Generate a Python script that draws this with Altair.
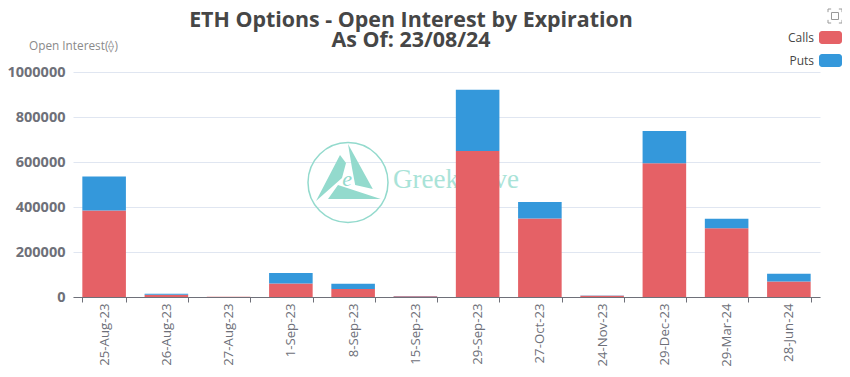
import altair as alt
import pandas as pd

expiries = ["25-Aug-23", "26-Aug-23", "27-Aug-23", "1-Sep-23", "8-Sep-23", "15-Sep-23",
            "29-Sep-23", "27-Oct-23", "24-Nov-23", "29-Dec-23", "29-Mar-24", "28-Jun-24"]
calls = [385000, 10000, 800, 60500, 35500, 3500, 649000, 349000, 6000, 595000, 306000, 69000]
puts = [151000, 4000, 700, 46500, 23500, 1000, 272000, 73000, 1000, 143000, 42000, 34500]
series = ["Calls", "Puts"]
colors = ["#E56166", "#3498DB"]
y_ticks = [0, 200000, 400000, 600000, 800000, 1000000]
title_lines = ["ETH Options - Open Interest by Expiration", "As Of: 23/08/24"]

FONT = "Open Sans"
TEAL = "#93DACD"
GREY = "#6E7079"

rows = []
for i, e in enumerate(expiries):
    rows.append({"expiry": e, "series": "Calls", "oi": calls[i], "order": 0})
    rows.append({"expiry": e, "series": "Puts", "oi": puts[i], "order": 1})
df = pd.DataFrame(rows)

one = alt.Data(values=[{"k": 1}])


def px(x):
    return alt.value(x - 73)


def py(y):
    return alt.value(y - 72)


def label(text, x, y, size, color, align="center", weight="normal", font=FONT, style="normal", **extra):
    return alt.Chart(one).mark_text(
        text=text, align=align, baseline="alphabetic", fontSize=size, color=color,
        fontWeight=weight, font=font, fontStyle=style, **extra,
    ).encode(x=px(x), y=py(y))


def glyph(path, x, y, size, fill=None, stroke=None, stroke_width=1):
    kw = {"shape": path, "size": size, "opacity": 1}
    if fill:
        kw.update(filled=True, fill=fill, strokeWidth=0)
    else:
        kw.update(filled=False, stroke=stroke, strokeWidth=stroke_width)
    return alt.Chart(one).mark_point(**kw).encode(x=px(x), y=py(y))


# watermark, behind the bars
ring = glyph("circle", 348, 182.5, 6400, stroke=TEAL, stroke_width=1.5)
tris = glyph(
    "M-0.8,0.46L-0.2,-0.69L-0.05,-0.49L-0.15,-0.11Z"
    "M0,-0.96L0.62,0.16L0.18,0.06L0.1,-0.36Z"
    "M-0.25,0.06L0.82,0.41L-0.5,0.41Z",
    348, 182.5, 6400, fill=TEAL,
)
mark_e = label("e", 347, 186, 22, TEAL, font="Liberation Serif", style="italic")
brand = label("GreeksLive", 393, 188, 27, "#A9E3D8", align="left", font="Liberation Serif")

bars = alt.Chart(df).mark_bar(strokeWidth=0).encode(
    x=alt.X(
        "expiry:N", sort=expiries, title=None,
        scale=alt.Scale(paddingInner=0.3, paddingOuter=0.15),
        axis=alt.Axis(
            labelAngle=270, labelAlign="right", labelBaseline="middle", labelFont=FONT, labelFontSize=13.2,
            labelColor=GREY, labelPadding=1, tickBand="extent", tickColor=GREY, tickSize=5, domainColor=GREY,
            domainWidth=1, grid=False, labelOverlap=False,
        ),
    ),
    y=alt.Y(
        "oi:Q", stack="zero", title=None,
        scale=alt.Scale(domain=[0, 1000000], nice=False),
        axis=alt.Axis(
            values=y_ticks, format="d", labelFont=FONT, labelFontSize=14.5, labelFontWeight="bold", labelColor=GREY,
            labelPadding=8, ticks=False, domain=False, grid=True, gridColor="#E0E6F1", gridWidth=1,
        ),
    ),
    color=alt.Color("series:N", scale=alt.Scale(domain=series, range=colors), legend=None),
    order=alt.Order("order:Q"),
)

layers = [ring, tris, mark_e, brand, bars]

# title (two lines in one mark; the page margin keeps it below y=8) and axis name
layers.append(label(title_lines, 411, 27, 21.4, "#464646", weight="bold", lineHeight=20))
layers.append(label("Open Interest(\u27e0)", 29, 50, 11.8, "#8A8A8A", align="left"))

# hand-placed legend, labels left of the swatches
swatch_y = [31, 54]
for name, col, top in zip(series, colors, swatch_y):
    layers.append(
        alt.Chart(one).mark_bar(cornerRadius=3, color=col).encode(
            x=px(819), x2=px(842), y=py(top), y2=py(top + 13)
        )
    )
    layers.append(label(name, 814, top + 11, 12, "#464646", align="right"))

# toolbox icon
layers.append(
    glyph(
        "M-1,-0.55L-1,-1L-0.55,-1M0.55,-1L1,-1L1,-0.55M1,0.55L1,1L0.55,1M-0.55,1L-1,1L-1,0.55"
        "M-0.5,-0.5L0.5,-0.5L0.5,0.5L-0.5,0.5Z",
        835, 16, 196, stroke="#9A9A9A", stroke_width=1,
    )
)

chart = alt.layer(*layers).properties(
    width=747, height=225,
    autosize=alt.AutoSizeParams(type="none"),
    padding={"left": 65, "top": 64, "right": 22, "bottom": 72},
).configure_view(stroke=None).resolve_scale(x="shared", y="shared")

chart.save("out.html", embed_options={"renderer": "svg", "actions": False})
